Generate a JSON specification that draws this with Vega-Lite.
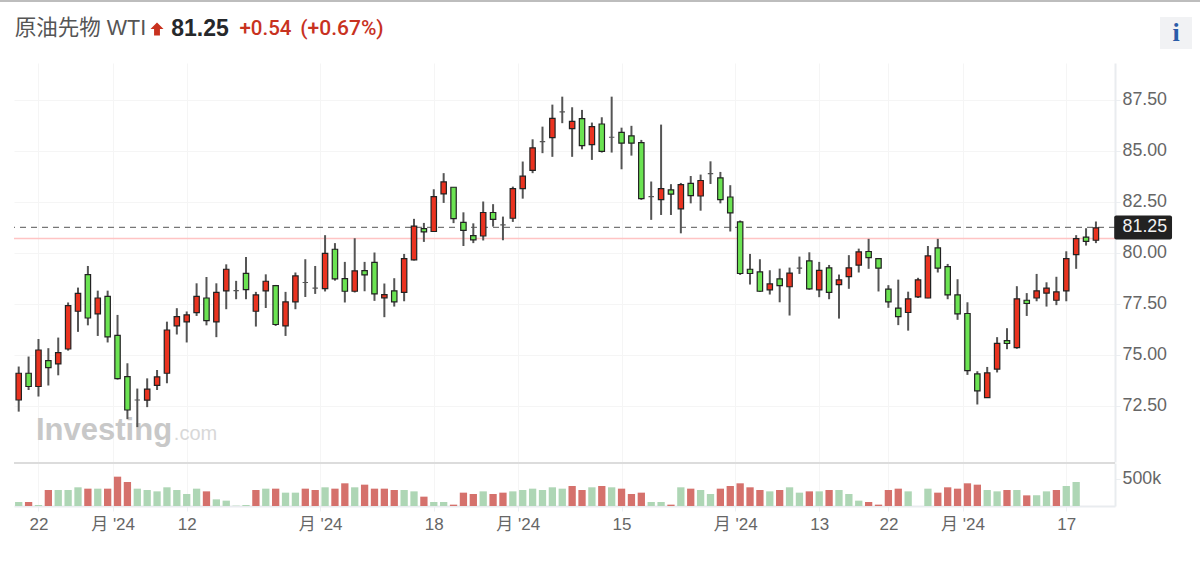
{
  "$schema": "https://vega.github.io/schema/vega-lite/v6.json",
  "background": "white",
  "padding": 0,
  "config": {
    "font": "Liberation Sans, Noto Sans CJK JP",
    "view": {"stroke": null},
    "concat": {"spacing": 0}
  },
  "datasets": {
    "candles": [
      {"n":0,"o":72.79,"h":74.43,"l":72.22,"c":74.10},
      {"n":1,"o":74.10,"h":74.92,"l":73.28,"c":73.45},
      {"n":2,"o":73.45,"h":75.78,"l":72.96,"c":75.24},
      {"n":3,"o":74.72,"h":75.33,"l":73.50,"c":74.38},
      {"n":4,"o":74.56,"h":75.85,"l":74.00,"c":75.11},
      {"n":5,"o":75.29,"h":77.57,"l":75.21,"c":77.42},
      {"n":6,"o":77.14,"h":78.30,"l":76.13,"c":78.02},
      {"n":7,"o":78.94,"h":79.36,"l":76.45,"c":76.81},
      {"n":8,"o":77.01,"h":78.15,"l":75.93,"c":77.79},
      {"n":9,"o":77.87,"h":78.15,"l":75.61,"c":75.88},
      {"n":10,"o":75.96,"h":76.96,"l":73.79,"c":73.84},
      {"n":11,"o":73.94,"h":74.59,"l":71.85,"c":72.30},
      {"n":12,"o":72.79,"h":73.35,"l":71.46,"c":72.79},
      {"n":13,"o":72.78,"h":73.85,"l":72.44,"c":73.32},
      {"n":14,"o":73.51,"h":74.26,"l":73.28,"c":73.92},
      {"n":15,"o":74.10,"h":76.63,"l":73.61,"c":76.22},
      {"n":16,"o":76.42,"h":77.29,"l":76.00,"c":76.88},
      {"n":17,"o":76.62,"h":77.13,"l":75.61,"c":76.96},
      {"n":18,"o":77.07,"h":78.51,"l":76.91,"c":77.87},
      {"n":19,"o":77.79,"h":78.82,"l":76.45,"c":76.68},
      {"n":20,"o":76.62,"h":78.51,"l":75.87,"c":78.07},
      {"n":21,"o":78.14,"h":79.44,"l":77.24,"c":79.20},
      {"n":22,"o":78.15,"h":78.63,"l":77.73,"c":78.15},
      {"n":23,"o":79.00,"h":79.80,"l":77.73,"c":78.20},
      {"n":24,"o":77.14,"h":78.09,"l":76.39,"c":77.94},
      {"n":25,"o":78.14,"h":78.95,"l":77.30,"c":78.61},
      {"n":26,"o":78.40,"h":78.43,"l":76.42,"c":76.49},
      {"n":27,"o":76.42,"h":78.09,"l":75.93,"c":77.60},
      {"n":28,"o":77.60,"h":79.04,"l":77.24,"c":78.87},
      {"n":29,"o":78.55,"h":79.69,"l":77.84,"c":78.55},
      {"n":30,"o":78.27,"h":79.36,"l":77.99,"c":78.27},
      {"n":31,"o":78.25,"h":80.87,"l":78.11,"c":79.98},
      {"n":32,"o":80.18,"h":80.48,"l":78.64,"c":78.73},
      {"n":33,"o":78.74,"h":79.56,"l":77.57,"c":78.12},
      {"n":34,"o":78.12,"h":80.72,"l":78.06,"c":79.12},
      {"n":35,"o":79.13,"h":79.56,"l":78.12,"c":78.92},
      {"n":36,"o":79.54,"h":80.02,"l":77.65,"c":77.99},
      {"n":37,"o":77.80,"h":78.50,"l":76.85,"c":77.96},
      {"n":38,"o":78.14,"h":78.76,"l":77.37,"c":77.60},
      {"n":39,"o":78.07,"h":79.95,"l":77.63,"c":79.72},
      {"n":40,"o":79.66,"h":81.67,"l":79.63,"c":81.31},
      {"n":41,"o":81.19,"h":81.47,"l":80.54,"c":81.03},
      {"n":42,"o":81.05,"h":83.12,"l":81.03,"c":82.76},
      {"n":43,"o":82.89,"h":83.91,"l":82.45,"c":83.48},
      {"n":44,"o":83.22,"h":83.22,"l":81.46,"c":81.68},
      {"n":45,"o":81.50,"h":81.99,"l":80.34,"c":81.10},
      {"n":46,"o":80.85,"h":81.45,"l":80.48,"c":80.64},
      {"n":47,"o":80.83,"h":82.52,"l":80.61,"c":81.98},
      {"n":48,"o":81.98,"h":82.39,"l":81.29,"c":81.64},
      {"n":49,"o":81.37,"h":81.78,"l":80.62,"c":81.37},
      {"n":50,"o":81.70,"h":83.25,"l":81.52,"c":83.15},
      {"n":51,"o":83.15,"h":84.48,"l":82.66,"c":83.76},
      {"n":52,"o":84.05,"h":85.57,"l":83.91,"c":85.15},
      {"n":53,"o":85.46,"h":86.19,"l":84.89,"c":85.46},
      {"n":54,"o":85.65,"h":87.27,"l":84.71,"c":86.60},
      {"n":55,"o":86.91,"h":87.66,"l":86.36,"c":86.91},
      {"n":56,"o":86.09,"h":87.14,"l":84.71,"c":86.45},
      {"n":57,"o":86.58,"h":87.01,"l":85.08,"c":85.26},
      {"n":58,"o":85.31,"h":86.39,"l":84.56,"c":86.19},
      {"n":59,"o":86.32,"h":86.65,"l":84.92,"c":84.98},
      {"n":60,"o":85.67,"h":87.66,"l":84.92,"c":85.67},
      {"n":61,"o":85.91,"h":86.14,"l":84.10,"c":85.38},
      {"n":62,"o":85.74,"h":86.23,"l":84.77,"c":85.38},
      {"n":63,"o":85.41,"h":85.54,"l":82.60,"c":82.66},
      {"n":64,"o":82.76,"h":83.50,"l":81.62,"c":82.76},
      {"n":65,"o":82.61,"h":86.29,"l":81.86,"c":83.15},
      {"n":66,"o":83.09,"h":83.37,"l":81.86,"c":82.88},
      {"n":67,"o":82.16,"h":83.43,"l":80.96,"c":83.35},
      {"n":68,"o":83.41,"h":83.77,"l":82.43,"c":82.81},
      {"n":69,"o":82.79,"h":83.84,"l":82.07,"c":83.55},
      {"n":70,"o":83.89,"h":84.49,"l":83.38,"c":83.89},
      {"n":71,"o":83.68,"h":83.97,"l":82.43,"c":82.61},
      {"n":72,"o":82.74,"h":83.32,"l":81.05,"c":81.96},
      {"n":73,"o":81.52,"h":81.59,"l":78.92,"c":78.99},
      {"n":74,"o":79.20,"h":79.95,"l":78.45,"c":78.99},
      {"n":75,"o":79.07,"h":79.69,"l":78.09,"c":78.12},
      {"n":76,"o":78.19,"h":79.15,"l":77.96,"c":78.48},
      {"n":77,"o":78.73,"h":79.23,"l":77.58,"c":78.40},
      {"n":78,"o":78.34,"h":79.28,"l":76.93,"c":79.01},
      {"n":79,"o":79.25,"h":79.82,"l":78.97,"c":79.25},
      {"n":80,"o":79.61,"h":80.03,"l":78.19,"c":78.24},
      {"n":81,"o":78.19,"h":79.56,"l":77.83,"c":79.14},
      {"n":82,"o":79.27,"h":79.41,"l":77.73,"c":78.07},
      {"n":83,"o":78.45,"h":78.94,"l":76.78,"c":78.68},
      {"n":84,"o":78.84,"h":79.89,"l":78.24,"c":79.27},
      {"n":85,"o":79.40,"h":80.21,"l":79.04,"c":80.05},
      {"n":86,"o":80.07,"h":80.69,"l":79.22,"c":79.77},
      {"n":87,"o":79.72,"h":79.72,"l":78.11,"c":79.25},
      {"n":88,"o":78.22,"h":78.42,"l":77.31,"c":77.60},
      {"n":89,"o":77.29,"h":78.69,"l":76.46,"c":76.88},
      {"n":90,"o":77.08,"h":78.10,"l":76.19,"c":77.75},
      {"n":91,"o":77.84,"h":78.78,"l":77.79,"c":78.68},
      {"n":92,"o":77.79,"h":80.34,"l":77.78,"c":79.85},
      {"n":93,"o":80.25,"h":80.69,"l":79.04,"c":79.25},
      {"n":94,"o":79.33,"h":79.46,"l":77.73,"c":77.94},
      {"n":95,"o":77.94,"h":78.71,"l":76.72,"c":77.01},
      {"n":96,"o":77.03,"h":77.58,"l":74.02,"c":74.23},
      {"n":97,"o":74.07,"h":74.20,"l":72.57,"c":73.24},
      {"n":98,"o":72.91,"h":74.41,"l":72.89,"c":74.12},
      {"n":99,"o":74.30,"h":75.87,"l":74.14,"c":75.57},
      {"n":100,"o":75.70,"h":76.31,"l":75.28,"c":75.56},
      {"n":101,"o":75.36,"h":78.37,"l":75.30,"c":77.75},
      {"n":102,"o":77.68,"h":78.03,"l":76.91,"c":77.52},
      {"n":103,"o":77.79,"h":78.97,"l":77.63,"c":78.14},
      {"n":104,"o":78.03,"h":78.56,"l":77.37,"c":78.27},
      {"n":105,"o":77.68,"h":78.83,"l":77.44,"c":78.09},
      {"n":106,"o":78.14,"h":80.08,"l":77.63,"c":79.72},
      {"n":107,"o":79.92,"h":80.87,"l":79.22,"c":80.70},
      {"n":108,"o":80.77,"h":81.21,"l":80.36,"c":80.57},
      {"n":109,"o":80.62,"h":81.54,"l":80.48,"c":81.23}
    ],
    "volume": [
      {"n":0,"v":74,"d":"down"},{"n":1,"v":74,"d":"up"},{"n":2,"v":19,"d":"down"},{"n":3,"v":296,"d":"up"},
      {"n":4,"v":296,"d":"down"},{"n":5,"v":296,"d":"down"},{"n":6,"v":346,"d":"down"},{"n":7,"v":321,"d":"up"},
      {"n":8,"v":321,"d":"down"},{"n":9,"v":321,"d":"up"},{"n":10,"v":543,"d":"up"},{"n":11,"v":444,"d":"up"},
      {"n":12,"v":321,"d":"down"},{"n":13,"v":296,"d":"down"},{"n":14,"v":271,"d":"down"},{"n":15,"v":346,"d":"down"},
      {"n":16,"v":296,"d":"down"},{"n":17,"v":222,"d":"down"},{"n":18,"v":321,"d":"down"},{"n":19,"v":271,"d":"up"},
      {"n":20,"v":123,"d":"down"},{"n":21,"v":99,"d":"down"},{"n":22,"v":6,"d":"down"},{"n":23,"v":19,"d":"down"},
      {"n":24,"v":296,"d":"up"},{"n":25,"v":321,"d":"down"},{"n":26,"v":321,"d":"up"},{"n":27,"v":247,"d":"down"},
      {"n":28,"v":247,"d":"down"},{"n":29,"v":321,"d":"up"},{"n":30,"v":296,"d":"up"},{"n":31,"v":346,"d":"down"},
      {"n":32,"v":321,"d":"up"},{"n":33,"v":420,"d":"up"},{"n":34,"v":346,"d":"down"},{"n":35,"v":395,"d":"up"},
      {"n":36,"v":321,"d":"up"},{"n":37,"v":321,"d":"up"},{"n":38,"v":296,"d":"up"},{"n":39,"v":296,"d":"down"},
      {"n":40,"v":271,"d":"down"},{"n":41,"v":173,"d":"up"},{"n":42,"v":74,"d":"down"},{"n":43,"v":74,"d":"down"},
      {"n":44,"v":25,"d":"up"},{"n":45,"v":247,"d":"up"},{"n":46,"v":222,"d":"up"},{"n":47,"v":271,"d":"down"},
      {"n":48,"v":222,"d":"up"},{"n":49,"v":247,"d":"up"},{"n":50,"v":271,"d":"down"},{"n":51,"v":296,"d":"down"},
      {"n":52,"v":321,"d":"down"},{"n":53,"v":296,"d":"down"},{"n":54,"v":346,"d":"down"},{"n":55,"v":321,"d":"down"},
      {"n":56,"v":370,"d":"up"},{"n":57,"v":296,"d":"up"},{"n":58,"v":346,"d":"down"},{"n":59,"v":370,"d":"up"},
      {"n":60,"v":346,"d":"down"},{"n":61,"v":321,"d":"up"},{"n":62,"v":222,"d":"up"},{"n":63,"v":247,"d":"up"},
      {"n":64,"v":74,"d":"down"},{"n":65,"v":74,"d":"down"},{"n":66,"v":25,"d":"up"},{"n":67,"v":346,"d":"down"},
      {"n":68,"v":321,"d":"up"},{"n":69,"v":296,"d":"down"},{"n":70,"v":222,"d":"down"},{"n":71,"v":321,"d":"up"},
      {"n":72,"v":370,"d":"up"},{"n":73,"v":420,"d":"up"},{"n":74,"v":346,"d":"up"},{"n":75,"v":296,"d":"up"},
      {"n":76,"v":271,"d":"down"},{"n":77,"v":296,"d":"up"},{"n":78,"v":346,"d":"down"},{"n":79,"v":247,"d":"down"},
      {"n":80,"v":271,"d":"up"},{"n":81,"v":271,"d":"down"},{"n":82,"v":296,"d":"up"},{"n":83,"v":296,"d":"down"},
      {"n":84,"v":222,"d":"down"},{"n":85,"v":99,"d":"down"},{"n":86,"v":74,"d":"up"},{"n":87,"v":25,"d":"up"},
      {"n":88,"v":296,"d":"up"},{"n":89,"v":321,"d":"up"},{"n":90,"v":271,"d":"down"},
      {"n":92,"v":321,"d":"down"},{"n":93,"v":247,"d":"up"},{"n":94,"v":346,"d":"up"},{"n":95,"v":321,"d":"up"},
      {"n":96,"v":420,"d":"up"},{"n":97,"v":395,"d":"up"},{"n":98,"v":296,"d":"down"},{"n":99,"v":271,"d":"down"},
      {"n":100,"v":296,"d":"up"},{"n":101,"v":296,"d":"down"},{"n":102,"v":197,"d":"up"},{"n":103,"v":197,"d":"down"},
      {"n":104,"v":271,"d":"down"},{"n":105,"v":296,"d":"up"},{"n":106,"v":370,"d":"down"},{"n":107,"v":444,"d":"down"}
    ]
  },
  "data": {"values": [{}]},
  "vconcat": [
    {"width": 1200, "height": 2, "view": {"fill": "#bdbdbd"}, "transform": [{"filter": "false"}], "mark": "text"},
    {
      "hconcat": [
        {"width": 13, "height": 10, "transform": [{"filter": "false"}], "mark": "text"},
        {
          "vconcat": [
            {"width": 1187, "height": 15, "transform": [{"filter": "false"}], "mark": "text"},
            {
              "hconcat": [
                {"width": 133, "height": 32, "mark": {"type": "text", "text": "原油先物 WTI", "fontSize": 21.5, "color": "#555555", "dy": -4}},
                {"width": 20, "height": 32, "mark": {"type": "point", "filled": true, "opacity": 1, "size": 170, "color": "#c8321f", "yOffset": -4, "shape": "M0,-1 L1,0 L0.45,0 L0.45,1 L-0.45,1 L-0.45,0 L-1,0 Z"}},
                {"width": 66, "height": 32, "mark": {"type": "text", "text": "81.25", "font": "Liberation Sans", "fontWeight": "bold", "fontSize": 23, "color": "#26282b", "dy": -4}},
                {"width": 65, "height": 32, "mark": {"type": "text", "text": "+0.54", "font": "Roboto", "fontWeight": 500, "fontSize": 20.5, "color": "#c8321f", "dy": -4}},
                {"width": 88, "height": 32, "mark": {"type": "text", "text": "(+0.67%)", "font": "Roboto", "fontWeight": 500, "fontSize": 21, "color": "#c8321f", "dy": -4}},
                {"width": 774, "height": 32, "transform": [{"filter": "false"}], "mark": "text"},
                {"width": 32, "height": 32, "view": {"fill": "#f1f2f4"}, "mark": {"type": "text", "text": "i", "font": "Liberation Serif", "fontWeight": "bold", "fontSize": 26, "color": "#2a5ca8"}}
              ]
            },
            {"width": 1187, "height": 14, "transform": [{"filter": "false"}], "mark": "text"},
            {
              "width": 1101,
              "height": 399,
              "encoding": {
                "x": {"field": "n", "type": "quantitative", "title": null, "scale": {"domain": [-0.476, 110.93], "nice": false, "zero": false, "padding": 0},
                  "axis": {"values": [2, 9.5, 17, 30.5, 42, 50.5, 61, 72.5, 81, 88, 95.5, 106], "labels": false, "ticks": false, "domain": false, "grid": true, "gridColor": "#f5f5f5"}}
              },
              "layer": [
                {
                  "data": {"values": [{"i": 1.75, "p": 71.27, "w": "Investing"}]},
                  "mark": {"type": "text", "align": "left", "fontSize": 31, "fontWeight": "bold", "color": "#c8c8c8"},
                  "encoding": {"x": {"field": "i", "type": "quantitative"}, "y": {"field": "p", "type": "quantitative"}, "text": {"field": "w"}}
                },
                {
                  "data": {"values": [{"i": 15.7, "p": 71.1, "w": ".com"}]},
                  "mark": {"type": "text", "align": "left", "fontSize": 20, "color": "#d8d8d8"},
                  "encoding": {"x": {"field": "i", "type": "quantitative"}, "y": {"field": "p", "type": "quantitative"}, "text": {"field": "w"}}
                },
                {
                  "data": {"values": [{"p": 80.71}]},
                  "mark": {"type": "rule", "color": "#ffc4c4", "strokeWidth": 1.5},
                  "encoding": {"x": null, "y": {"field": "p", "type": "quantitative"}}
                },
                {
                  "data": {"values": [{"p": 81.25}]},
                  "mark": {"type": "rule", "color": "#777777", "strokeWidth": 1.3, "strokeDash": [6, 5]},
                  "encoding": {"x": null, "y": {"field": "p", "type": "quantitative"}}
                },
                {
                  "data": {"name": "candles"},
                  "mark": {"type": "rule", "color": "#555555", "strokeWidth": 2},
                  "encoding": {
                    "y": {"field": "l", "type": "quantitative", "title": null, "scale": {"domain": [69.75, 89.31], "nice": false, "zero": false},
                      "axis": {"orient": "right", "values": [72.5, 75, 77.5, 80, 82.5, 85, 87.5], "format": ".2f", "labelFontSize": 17.8, "labelColor": "#666666", "labelPadding": 2, "tickColor": "#eceff2", "tickSize": 5, "domainColor": "#e9ecef", "domainWidth": 2, "gridColor": "#f5f5f5", "grid": true}},
                    "y2": {"field": "h"}
                  }
                },
                {
                  "data": {"name": "candles"},
                  "mark": {"type": "bar", "size": 5.4, "orient": "vertical", "strokeWidth": 1.2},
                  "encoding": {
                    "y": {"field": "o", "type": "quantitative"},
                    "y2": {"field": "c"},
                    "fill": {"condition": {"test": "datum.c > datum.o", "value": "#ea3320"}, "value": "#6be352"},
                    "stroke": {"condition": {"test": "datum.c == datum.o", "value": "#555555"}, "value": "#222222"}
                  }
                },
                {
                  "data": {"values": [{"a": 110.85, "b": 116.7, "hi": 81.84, "lo": 80.66}]},
                  "mark": {"type": "rect", "color": "#222222", "cornerRadius": 2},
                  "encoding": {"x": {"field": "a", "type": "quantitative"}, "x2": {"field": "b"}, "y": {"field": "hi", "type": "quantitative"}, "y2": {"field": "lo"}}
                },
                {
                  "data": {"values": [{"a": 111.7, "p": 81.25}]},
                  "mark": {"type": "text", "fontSize": 17.8, "color": "#f2f2f2", "align": "left"},
                  "encoding": {"x": {"field": "a", "type": "quantitative"}, "y": {"field": "p", "type": "quantitative"}, "text": {"field": "p", "format": ".2f"}}
                }
              ]
            },
            {
              "width": 1101,
              "height": 43,
              "encoding": {
                "x": {"field": "n", "type": "quantitative", "title": null, "scale": {"domain": [-0.476, 110.93], "nice": false, "zero": false, "padding": 0},
                  "axis": {"values": [2, 9.5, 17, 30.5, 42, 50.5, 61, 72.5, 81, 88, 95.5, 106],
                    "labelExpr": "{'2':'22','9.5':'月 \\'24','17':'12','30.5':'月 \\'24','42':'18','50.5':'月 \\'24','61':'15','72.5':'月 \\'24','81':'13','88':'22','95.5':'月 \\'24','106':'17'}[datum.value]",
                    "labelFontSize": 17, "labelColor": "#666666", "labelPadding": 5, "labelOverlap": false, "tickColor": "#eceff2", "tickSize": 5, "domainColor": "#e9ecef", "domainWidth": 2, "grid": true, "gridColor": "#f5f5f5"}}
              },
              "layer": [
                {
                  "data": {"name": "volume"},
                  "mark": {"type": "bar", "size": 7.3, "orient": "vertical"},
                  "encoding": {
                    "y": {"field": "v", "type": "quantitative", "title": null, "stack": null, "scale": {"domain": [0, 796], "nice": false},
                      "axis": {"orient": "right", "values": [500], "labelExpr": "datum.value + 'k'", "labelFontSize": 17.8, "labelColor": "#666666", "labelPadding": 2, "tickColor": "#eceff2", "tickSize": 5, "domainColor": "#e9ecef", "domainWidth": 2, "grid": false}},
                    "color": {"field": "d", "type": "nominal", "legend": null, "scale": {"domain": ["up", "down"], "range": ["#d5716c", "#aed6b5"]}}
                  }
                },
                {
                  "data": {"values": [{"v": 796}]},
                  "mark": {"type": "rule", "color": "#dcdcdc", "strokeWidth": 2},
                  "encoding": {"x": null, "y": {"field": "v", "type": "quantitative"}}
                }
              ]
            }
          ]
        }
      ]
    }
  ]
}
